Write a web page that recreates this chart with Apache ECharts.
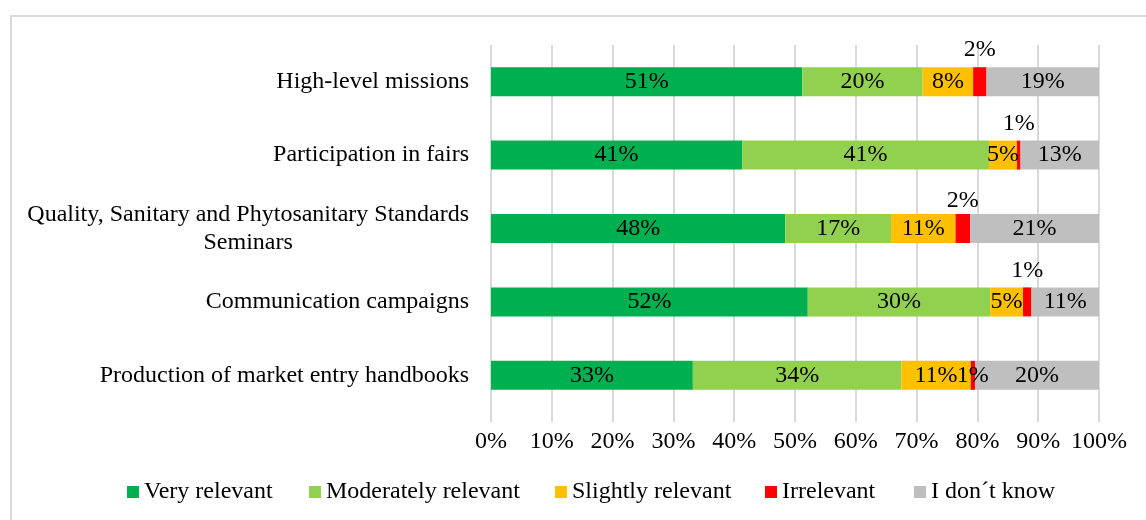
<!DOCTYPE html>
<html>
<head>
<meta charset="utf-8">
<script src="https://cdn.jsdelivr.net/npm/echarts@6/dist/echarts.min.js"></script>
<style>
html,body{margin:0;padding:0;background:#fff;}
#c{width:1146px;height:520px;}
</style>
</head>
<body>
<div id="c"></div>
<script>
const categories = [
  'High-level missions',
  'Participation in fairs',
  'Quality, Sanitary and Phytosanitary Standards\nSeminars',
  'Communication campaigns',
  'Production of market entry handbooks'
];
const seriesNames = ['Very relevant', 'Moderately relevant', 'Slightly relevant', 'Irrelevant', 'I don\u00b4t know'];
const veryRelevant       = [51.2, 41.3, 48.4, 52.1, 33.2];
const moderatelyRelevant = [19.8, 40.6, 17.4, 30.0, 34.3];
const slightlyRelevant   = [8.3, 4.6, 10.6, 5.4, 11.4];
const irrelevant         = [2.2, 0.6, 2.4, 1.4, 0.7];
const dontKnow           = [18.5, 12.9, 21.2, 11.1, 20.4];
const irrelevantLabelAbove = [true, true, true, true, false];
const xTicks = [0, 10, 20, 30, 40, 50, 60, 70, 80, 90, 100];

const FONT = '"Liberation Serif", "Times New Roman", serif';
const colors = ['#00b050', '#92d050', '#ffc000', '#ff0000', '#bfbfbf'];
const values = [veryRelevant, moderatelyRelevant, slightlyRelevant, irrelevant, dontKnow];
const legendLefts = [127, 309, 555, 765, 914];

const labelBase = {
  show: true,
  position: 'inside',
  fontFamily: FONT,
  fontSize: 24,
  color: '#000',
  formatter: p => Math.round(p.value) + '%'
};

const series = values.map((arr, si) => ({
  name: seriesNames[si],
  type: 'bar',
  stack: 'total',
  barWidth: 29,
  itemStyle: { color: colors[si] },
  label: labelBase,
  emphasis: { disabled: true },
  data: arr.map((v, i) => {
    if (si === 3 && irrelevantLabelAbove[i]) {
      return { value: v, label: { position: 'top', distance: i === 2 ? 1 : 5 } };
    }
    return v;
  })
}));

const legends = seriesNames.map((n, i) => ({
  left: legendLefts[i],
  top: 480,
  padding: 0,
  itemWidth: 12,
  itemHeight: 12,
  icon: 'rect',
  textStyle: { fontFamily: FONT, fontSize: 24, color: '#000' },
  data: [n]
}));

const chart = echarts.init(document.getElementById('c'), null, { renderer: 'canvas' });
chart.setOption({
  animation: false,
  backgroundColor: '#fff',
  textStyle: { fontFamily: FONT },
  graphic: [{
    type: 'rect',
    shape: { x: 11, y: 16, width: 1200, height: 600 },
    style: { fill: 'none', stroke: '#d9d9d9', lineWidth: 2 },
    silent: true,
    z: -1
  }],
  grid: { left: 491, right: 47, top: 45, bottom: 108, containLabel: false },
  legend: legends,
  xAxis: {
    type: 'value',
    min: 0,
    max: 100,
    interval: 10,
    axisLine: { show: false },
    axisTick: { show: true, length: 10, lineStyle: { color: '#d9d9d9', width: 2 } },
    splitLine: { show: true, lineStyle: { color: '#d9d9d9', width: 2 } },
    axisLabel: {
      fontFamily: FONT,
      fontSize: 24,
      color: '#000',
      margin: 18,
      formatter: v => (xTicks.indexOf(v) >= 0 ? v + '%' : '')
    }
  },
  yAxis: {
    type: 'category',
    inverse: true,
    data: categories,
    axisLine: { show: false },
    axisTick: { show: false },
    axisLabel: {
      margin: 22,
      align: 'right',
      formatter: v => v.split('\n').map(s => '{c|' + s + '}').join('\n'),
      rich: {
        c: { align: 'center', fontFamily: FONT, fontSize: 24, color: '#000', lineHeight: 28 }
      }
    }
  },
  series: series
});
</script>
</body>
</html>
